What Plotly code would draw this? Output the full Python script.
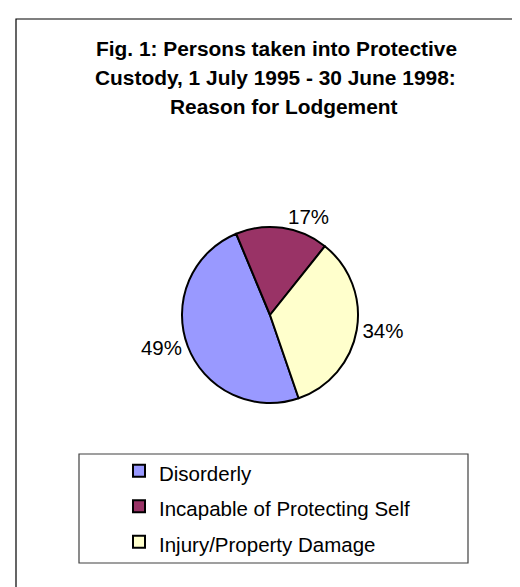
import plotly.graph_objects as go

# ---- data ----
categories = ["Disorderly", "Incapable of Protecting Self", "Injury/Property Damage"]
percent_values = [49, 17, 34]
slice_colors = ["#9999FF", "#993366", "#FFFFCC"]
title_lines = [
    "Fig. 1: Persons taken into Protective",
    "Custody, 1 July 1995 - 30 June 1998:",
    "Reason for Lodgement",
]

W, H = 520, 587
FONT = "Liberation Sans, Arial, sans-serif"


def px_x(x):
    return x / W


def px_y(y):
    return 1 - y / H


# pie geometry (pixels)
cx, cy, r = 262, 307, 88

legend_labels = [f"<span style='font-size:20.5px'>{c}</span>" for c in categories]

fig = go.Figure(
    go.Pie(
        labels=legend_labels,
        values=percent_values,
        sort=False,
        direction="clockwise",
        rotation=161,
        marker=dict(colors=slice_colors, line=dict(color="black", width=2)),
        textinfo="percent",
        textposition="outside",
        outsidetextfont=dict(family=FONT, size=20.5, color="black"),
        hoverinfo="skip",
        domain=dict(x=[px_x(cx - r), px_x(cx + r)], y=[px_y(cy + r), px_y(cy - r)]),
    )
)

title_pos = [(268, 41), (267, 70), (275.5, 98)]
annotations = []
for line, (tx, ty) in zip(title_lines, title_pos):
    annotations.append(
        dict(
            text=f"<b>{line}</b>",
            x=px_x(tx),
            y=px_y(ty),
            xref="paper",
            yref="paper",
            xanchor="center",
            yanchor="middle",
            showarrow=False,
            font=dict(family=FONT, size=20.9, color="black"),
        )
    )

shapes = [
    # outer chart frame (cropped at right/bottom)
    dict(type="rect", xref="paper", yref="paper",
         x0=px_x(8), x1=px_x(W + 20), y0=px_y(H + 20), y1=px_y(11),
         line=dict(color="black", width=1.2), fillcolor="rgba(0,0,0,0)"),
    # legend frame
    dict(type="rect", xref="paper", yref="paper",
         x0=px_x(71), x1=px_x(460), y0=px_y(555), y1=px_y(446),
         line=dict(color="#404040", width=1.2), fillcolor="rgba(0,0,0,0)"),
]

fig.update_layout(
    width=W,
    height=H,
    margin=dict(l=0, r=0, t=0, b=0),
    paper_bgcolor="white",
    plot_bgcolor="white",
    font=dict(family=FONT, size=20.5, color="black"),
    showlegend=True,
    legend=dict(
        x=px_x(111),
        y=px_y(440),
        xanchor="left",
        yanchor="top",
        bgcolor="rgba(0,0,0,0)",
        borderwidth=0,
        font=dict(family=FONT, size=25, color="black"),
        traceorder="normal",
    ),
    annotations=annotations,
    shapes=shapes,
)

fig.write_html("out.html", config={"displayModeBar": False})
